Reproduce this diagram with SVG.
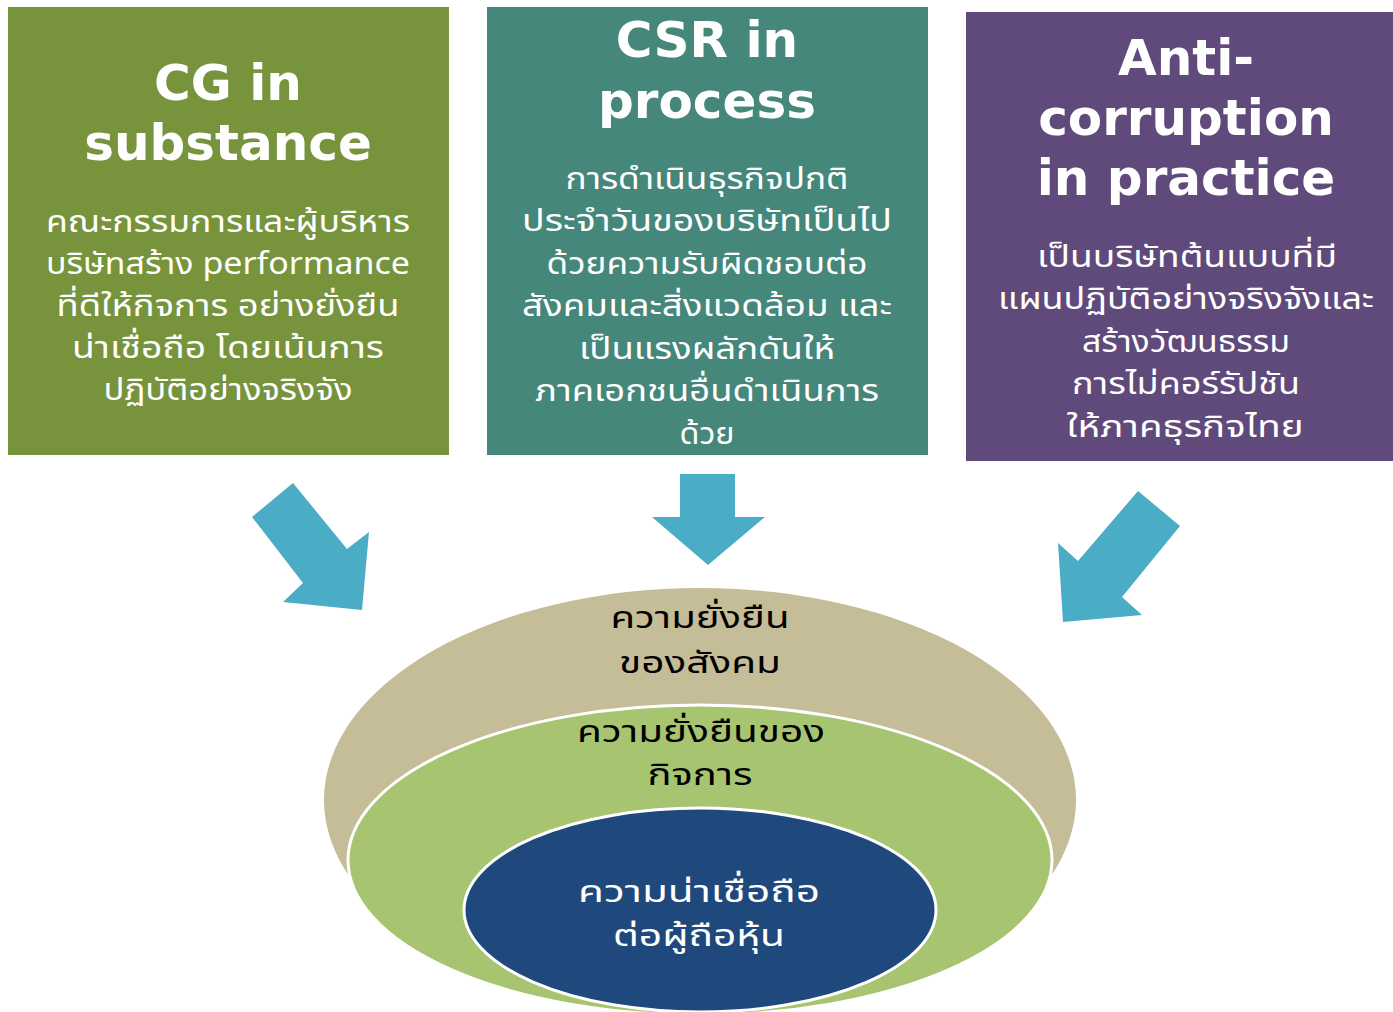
<svg xmlns="http://www.w3.org/2000/svg" width="1393" height="1012" viewBox="0 0 1393 1012">
<style>
.title{font-family:"DejaVu Sans","Liberation Sans",sans-serif;font-weight:bold;font-size:50px;fill:#fff;text-anchor:middle}
.body{font-family:"Noto Sans Thai","Noto Sans","DejaVu Sans",sans-serif;font-size:30px;fill:#fff;text-anchor:middle}
.ell{font-family:"Noto Sans Thai","Noto Sans","DejaVu Sans",sans-serif;font-size:31px;text-anchor:middle}
.arrow{fill:#4BACC6}
</style>
<rect width="1393" height="1012" fill="#fff"/>
<g id="box-cg">
<rect x="8" y="7" width="441" height="448" fill="#77933C"/>
<text class="title" x="228" y="100">CG in</text>
<text class="title" x="228" y="160">substance</text>
<text class="body" x="228" y="232" textLength="364" lengthAdjust="spacingAndGlyphs">คณะกรรมการและผู้บริหาร</text>
<text class="body" x="228" y="274" textLength="364" lengthAdjust="spacingAndGlyphs">บริษัทสร้าง performance</text>
<text class="body" x="228" y="316" textLength="343" lengthAdjust="spacingAndGlyphs">ที่ดีให้กิจการ อย่างยั่งยืน</text>
<text class="body" x="228" y="358" textLength="312" lengthAdjust="spacingAndGlyphs">น่าเชื่อถือ โดยเน้นการ</text>
<text class="body" x="228" y="400" textLength="249" lengthAdjust="spacingAndGlyphs">ปฏิบัติอย่างจริงจัง</text>
</g>
<g id="box-csr">
<rect x="487" y="7" width="441" height="448" fill="#45877A"/>
<text class="title" x="707" y="57">CSR in</text>
<text class="title" x="707" y="118">process</text>
<text class="body" x="707" y="189" textLength="283" lengthAdjust="spacingAndGlyphs">การดำเนินธุรกิจปกติ</text>
<text class="body" x="707" y="231" textLength="370" lengthAdjust="spacingAndGlyphs">ประจำวันของบริษัทเป็นไป</text>
<text class="body" x="707" y="274" textLength="321" lengthAdjust="spacingAndGlyphs">ด้วยความรับผิดชอบต่อ</text>
<text class="body" x="707" y="316" textLength="370" lengthAdjust="spacingAndGlyphs">สังคมและสิ่งแวดล้อม และ</text>
<text class="body" x="707" y="359" textLength="256" lengthAdjust="spacingAndGlyphs">เป็นแรงผลักดันให้</text>
<text class="body" x="707" y="401" textLength="344" lengthAdjust="spacingAndGlyphs">ภาคเอกชนอื่นดำเนินการ</text>
<text class="body" x="707" y="444" textLength="55" lengthAdjust="spacingAndGlyphs">ด้วย</text>
</g>
<g id="box-ac">
<rect x="966" y="12" width="427" height="449" fill="#604A7B"/>
<text class="title" x="1186" y="75">Anti-</text>
<text class="title" x="1186" y="135">corruption</text>
<text class="title" x="1186" y="195">in practice</text>
<text class="body" x="1187" y="267" textLength="300" lengthAdjust="spacingAndGlyphs">เป็นบริษัทต้นแบบที่มี</text>
<text class="body" x="1186" y="309" textLength="376" lengthAdjust="spacingAndGlyphs">แผนปฏิบัติอย่างจริงจังและ</text>
<text class="body" x="1186" y="352" textLength="208" lengthAdjust="spacingAndGlyphs">สร้างวัฒนธรรม</text>
<text class="body" x="1186" y="394" textLength="228" lengthAdjust="spacingAndGlyphs">การไม่คอร์รัปชัน</text>
<text class="body" x="1185" y="437" textLength="237" lengthAdjust="spacingAndGlyphs">ให้ภาคธุรกิจไทย</text>
</g>
<g id="connectors">
<polygon class="arrow" points="293,483 347,549 369,532 362,610 283,602 303,583 252,517"/>
<polygon class="arrow" points="680,474 735,474 735,517 765,517 708,565 652,517 680,517"/>
<polygon class="arrow" points="1138,491 1180,526 1122,597 1142,615 1063,622 1058,543 1078,561"/>
</g>
<g id="ellipse-society">
<ellipse cx="700" cy="800" rx="376" ry="212" fill="#C4BD97"/>
</g>
<g id="ellipse-business">
<ellipse cx="700" cy="860" rx="352" ry="155" fill="#A7C470" stroke="#fff" stroke-width="3"/>
</g>
<g id="ellipse-shareholders">
<ellipse cx="700" cy="910" rx="236" ry="102" fill="#1F497D" stroke="#fff" stroke-width="3"/>
</g>
<g id="labels">
<text class="ell" x="700" y="628" fill="#000" textLength="179" lengthAdjust="spacingAndGlyphs">ความยั่งยืน</text>
<text class="ell" x="700" y="673" fill="#000" textLength="162" lengthAdjust="spacingAndGlyphs">ของสังคม</text>
<text class="ell" x="701" y="742" fill="#000" textLength="248" lengthAdjust="spacingAndGlyphs">ความยั่งยืนของ</text>
<text class="ell" x="700" y="785" fill="#000" textLength="105" lengthAdjust="spacingAndGlyphs">กิจการ</text>
<text class="ell" x="699" y="902" fill="#fff" textLength="242" lengthAdjust="spacingAndGlyphs">ความน่าเชื่อถือ</text>
<text class="ell" x="699" y="946" fill="#fff" textLength="172" lengthAdjust="spacingAndGlyphs">ต่อผู้ถือหุ้น</text>
</g>
</svg>
